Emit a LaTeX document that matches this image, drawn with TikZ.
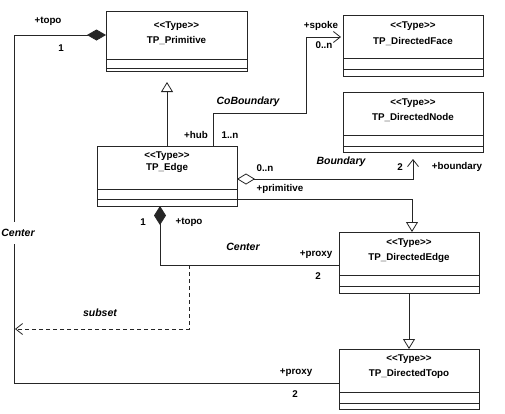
\documentclass[tikz,border=0pt]{standalone}
\usepackage{fontspec}
\setmainfont{Liberation Sans}
\usetikzlibrary{arrows.meta,calc}
\newcommand{\umlcompart}[3]{%
  \draw[boxline] ($(#1.north west)+(0,#2)$) -- ($(#1.north east)+(0,#2)$);
  \draw[boxline] ($(#1.north west)+(0,#3)$) -- ($(#1.north east)+(0,#3)$);}
\newcommand{\stereo}{\textless\kern0pt\textless\kern0pt Type\kern0pt\textgreater\kern0pt\textgreater}
\begin{document}
\begin{tikzpicture}[x=1pt,y=-1pt,
  cls/.style={draw=black!85, line width=1pt, inner sep=0pt, outer sep=0pt, anchor=north west},
  boxline/.style={draw=black!85, line width=1pt},
  assoc/.style={draw=black!85, line width=0.8pt},
  dep/.style={draw=black!85, line width=0.8pt, dash pattern=on 4pt off 3pt},
  lbl/.style={inner sep=0pt, font=\fontsize{9.8}{11}\selectfont\bfseries},
  ital/.style={inner sep=0pt, font=\fontsize{10.5}{12}\selectfont\bfseries\itshape},
  gen/.style={-{Triangle[open,length=10pt,width=12pt]}},
  barb/.style={-{Straight Barb[length=7pt,width=11pt]}},
  fdia/.style={{Diamond[length=19pt,width=11pt]}-},
  odia/.style={{Diamond[open,length=18pt,width=11pt]}-}
]
\useasboundingbox[fill=white] (0,0) rectangle (505,413);

% classes
\node[cls, minimum width=141pt, minimum height=60pt] (prim) at (106,11) {};
\node[cls, minimum width=140pt, minimum height=61pt] (face) at (343,15) {};
\node[cls, minimum width=140pt, minimum height=60pt] (node) at (343,92) {};
\node[cls, minimum width=140pt, minimum height=60pt] (edge) at (97,146) {};
\node[cls, minimum width=140pt, minimum height=61pt] (dedge) at (339,232) {};
\node[cls, minimum width=140pt, minimum height=60pt] (dtopo) at (339,349) {};
\umlcompart{prim}{48}{57.5}
\umlcompart{face}{43}{54}
\umlcompart{node}{43}{54}
\umlcompart{edge}{43}{53}
\umlcompart{dedge}{43}{54}
\umlcompart{dtopo}{43}{54}

\node[lbl] (primS) at (176.5,26) {\stereo};
\node[lbl] (primN) at (176.5,41) {TP\_Primitive};
\node[lbl] (faceS) at (413,26) {\stereo};
\node[lbl] (faceN) at (413,42) {TP\_DirectedFace};
\node[lbl] (nodeS) at (413,103) {\stereo};
\node[lbl] (nodeN) at (413,118) {TP\_DirectedNode};
\node[lbl] (edgeS) at (167,156) {\stereo};
\node[lbl] (edgeN) at (167,168) {TP\_Edge};
\node[lbl] (dedgeS) at (409,243) {\stereo};
\node[lbl] (dedgeN) at (409,258) {TP\_DirectedEdge};
\node[lbl] (dtopoS) at (409,359) {\stereo};
\node[lbl] (dtopoN) at (409,374) {TP\_DirectedTopo};

% connectors
\coordinate (lc) at (14,35);
\draw[assoc, fdia] ($(prim.north west)+(0,24)$) -- (lc) |- ($(dtopo.north west)+(0,34)$);
\draw[assoc, gen, shorten >=11pt] (edge.north) -- (edge.north |- prim.south);
\coordinate (cb) at (306,113);
\draw[assoc, barb, shorten >=2pt] ($(edge.north west)+(116,0)$) |- (cb) |- ($(face.north west)+(0,22)$);
\draw[assoc, {Diamond[open,length=18pt,width=11pt]}-{Straight Barb[length=7pt,width=11pt]}, shorten >=7pt] ($(edge.north east)+(0,33)$) -| (node.south);
\draw[assoc, gen] ($(edge.north east)+(0,53)$) -| ($(dedge.north)+(3,0)$);
\draw[assoc, {Diamond[length=19pt,width=12pt]}-] ($(edge.south)+(-7,0)$) |- ($(dedge.north west)+(0,33)$);
\draw[assoc, gen] (dedge.south) -- (dtopo.north);
\coordinate (ds) at (189,265);
\coordinate (de) at (15,329);
\draw[dep, barb] (ds) |- (de);

% labels
\node[lbl] (l1) at (48,21) {+topo};
\node[lbl] (l2) at (61,48) {1};
\node[ital, fill=white, inner ysep=7pt] (l3) at (18,233) {Center};
\node[lbl] (l4) at (296,373) {+proxy};
\node[lbl] (l5) at (295,394) {2};
\node[ital] (l6) at (248,102) {CoBoundary};
\node[lbl] (l7) at (196,135) {+hub};
\node[lbl] (l8) at (230,135) {1..n};
\node[lbl] (l9) at (321,26) {+spoke};
\node[lbl] (l10) at (324,45) {0..n};
\node[lbl] (l11) at (265,168) {0..n};
\node[ital] (l12) at (341,162) {Boundary};
\node[lbl] (l13) at (400,167) {2};
\node[lbl] (l14) at (457,167) {+boundary};
\node[lbl] (l15) at (280,189) {+primitive};
\node[lbl] (l16) at (143,222) {1};
\node[lbl] (l17) at (189,222) {+topo};
\node[ital] (l18) at (243,247) {Center};
\node[lbl] (l19) at (316,255) {+proxy};
\node[lbl] (l20) at (318,276) {2};
\node[ital] (l21) at (100,313) {subset};
\end{tikzpicture}
\end{document}
